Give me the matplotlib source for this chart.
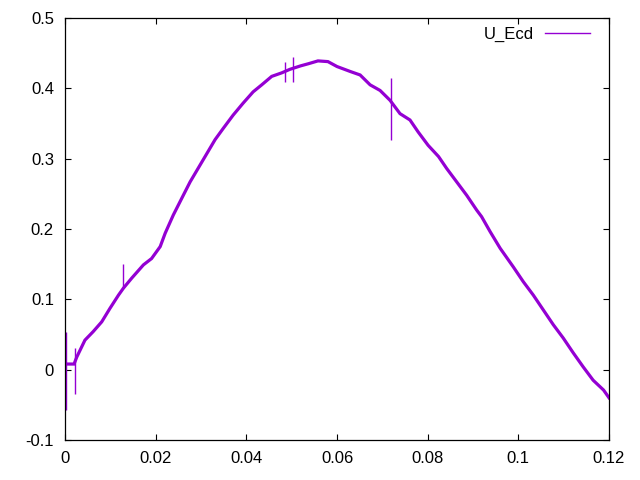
import matplotlib
matplotlib.use("Agg")
import matplotlib.pyplot as plt
from matplotlib.lines import Line2D
from matplotlib.ticker import FormatStrFormatter, MultipleLocator

# values
t = [0.0000, 0.0020, 0.0026, 0.0044, 0.0062, 0.0081, 0.0099, 0.0118, 0.0129,
     0.0147, 0.0173, 0.0191, 0.0210, 0.0221, 0.0239, 0.0261, 0.0276, 0.0287,
     0.0309, 0.0331, 0.0349, 0.0371, 0.0393, 0.0415, 0.0434, 0.0456, 0.0478,
     0.0496, 0.0520, 0.0537, 0.0558, 0.0580, 0.0600, 0.0629, 0.0651, 0.0673,
     0.0695, 0.0717, 0.0739, 0.0761, 0.0779, 0.0801, 0.0824, 0.0842, 0.0864,
     0.0886, 0.0908, 0.0919, 0.0938, 0.0960, 0.0989, 0.1011, 0.1033, 0.1055,
     0.1077, 0.1099, 0.1121, 0.1143, 0.1165, 0.1188, 0.1200]
u_ecd = [0.008, 0.008, 0.018, 0.042, 0.054, 0.068, 0.087, 0.106, 0.116,
         0.130, 0.149, 0.158, 0.175, 0.194, 0.220, 0.248, 0.267, 0.279,
         0.303, 0.327, 0.343, 0.362, 0.379, 0.395, 0.405, 0.417, 0.422,
         0.427, 0.432, 0.435, 0.439, 0.438, 0.431, 0.424, 0.419, 0.405,
         0.397, 0.383, 0.364, 0.355, 0.338, 0.319, 0.303, 0.286, 0.267,
         0.248, 0.227, 0.2175, 0.196, 0.1725, 0.146, 0.125, 0.106, 0.085,
         0.064, 0.045, 0.024, 0.004, -0.015, -0.029, -0.040]

# glitches (single-sample spikes)
spike_t = [0.0002, 0.0022, 0.0127, 0.0486, 0.0504, 0.0720]
spike_lo = [-0.057, -0.034, 0.116, 0.409, 0.409, 0.327]
spike_hi = [0.054, 0.031, 0.150, 0.438, 0.445, 0.414]

color = "#9400D3"
plt.rcParams["font.family"] = ["Liberation Sans", "DejaVu Sans"]

fig = plt.figure(figsize=(6.4, 4.8), dpi=100)
ax = fig.add_axes([65 / 640, 1 - 440 / 480, 544 / 640, 422 / 480])

ax.plot(t, u_ecd, color=color, lw=2.3, solid_joinstyle="miter")
ax.vlines(spike_t, spike_lo, spike_hi, color=color, lw=1.0)

ax.set_xlim(0, 0.12)
ax.set_ylim(-0.1, 0.5)
ax.xaxis.set_major_locator(MultipleLocator(0.02))
ax.yaxis.set_major_locator(MultipleLocator(0.1))
ax.xaxis.set_major_formatter(FormatStrFormatter("%g"))
ax.yaxis.set_major_formatter(FormatStrFormatter("%g"))
ax.tick_params(direction="in", length=4.5, width=0.8, top=True, right=True,
               labelsize=12, pad=8)
for s in ax.spines.values():
    s.set_linewidth(0.9)

handle = Line2D([], [], color=color, lw=1.0)
ax.legend([handle], ["U_Ecd"], loc="upper right", frameon=False,
          markerfirst=False, handlelength=2.7, handletextpad=0.7,
          fontsize=12, borderaxespad=0.3,
          bbox_to_anchor=(1 - 7 / 544, 1 + 3 / 422))

fig.savefig("out.png", dpi=100)
